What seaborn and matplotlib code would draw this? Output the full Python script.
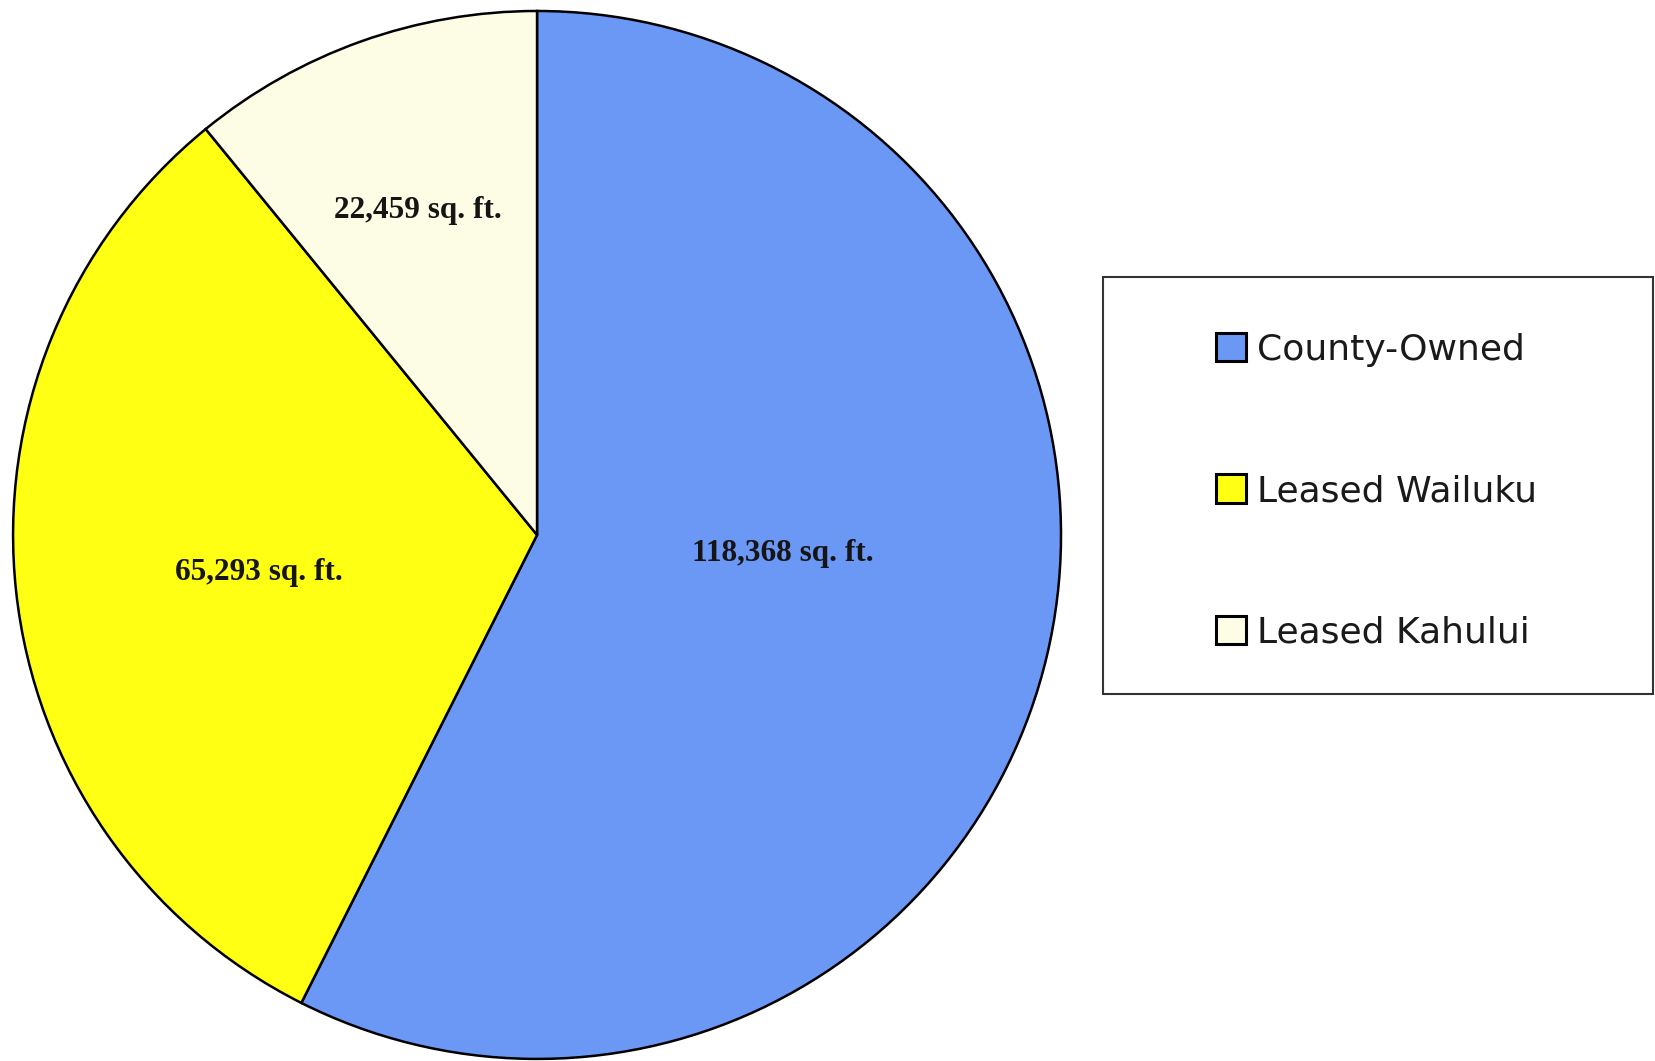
import matplotlib
matplotlib.use("Agg")
import matplotlib.pyplot as plt
import seaborn as sns
from matplotlib.patches import Patch, Rectangle
import numpy as np

categories = ["County-Owned", "Leased Wailuku", "Leased Kahului"]
values = [118368, 65293, 22459]
value_labels = ["118,368 sq. ft.", "65,293 sq. ft.", "22,459 sq. ft."]
colors = ["#6B98F5", "#FFFF14", "#FDFDE6"]
# label placement: (fraction of radius, angle offset in degrees from wedge mid)
label_dist = [0.47, 0.535, 0.66]
label_angle_offset = [9.0, 1.5, 0.5]

sns.set_theme(style="white")
plt.rcParams["font.family"] = ["DejaVu Sans"]

fig = plt.figure(figsize=(16.55, 10.61), dpi=100)
ax = fig.add_axes([0.0079, 0.0019, 0.6332, 0.9878])
wedges, _ = ax.pie(values, colors=colors, startangle=90, counterclock=False,
                   radius=1.0, wedgeprops=dict(edgecolor="black", linewidth=1.8))
ax.set_xlim(-1, 1)
ax.set_ylim(-1, 1)
ax.set_aspect("equal")
ax.axis("off")

for w, lab, d, off in zip(wedges, value_labels, label_dist, label_angle_offset):
    mid = np.deg2rad((w.theta1 + w.theta2) / 2 + off)
    ax.text(d * np.cos(mid), d * np.sin(mid), lab, ha="center", va="center",
            fontsize=22.5, fontweight="bold", family="Liberation Serif", color="#151515")

# legend frame
fig.add_artist(Rectangle((1103 / 1655, 1 - 694 / 1061), 550 / 1655, 417 / 1061,
                         transform=fig.transFigure, facecolor="white",
                         edgecolor="#333333", linewidth=1.5))
handles = [Patch(facecolor=c, edgecolor="black", linewidth=2.2) for c in colors]
leg = fig.legend(handles, categories, loc="center left",
                 bbox_to_anchor=(1216 / 1655, 1 - 491 / 1061),
                 frameon=False, fontsize=26, handlelength=0.83, handleheight=0.83,
                 handletextpad=0.3, labelspacing=2.97, borderpad=0.0,
                 borderaxespad=0.0)
for t in leg.get_texts():
    t.set_color("#1a1a1a")

fig.savefig("out.png", dpi=100)
